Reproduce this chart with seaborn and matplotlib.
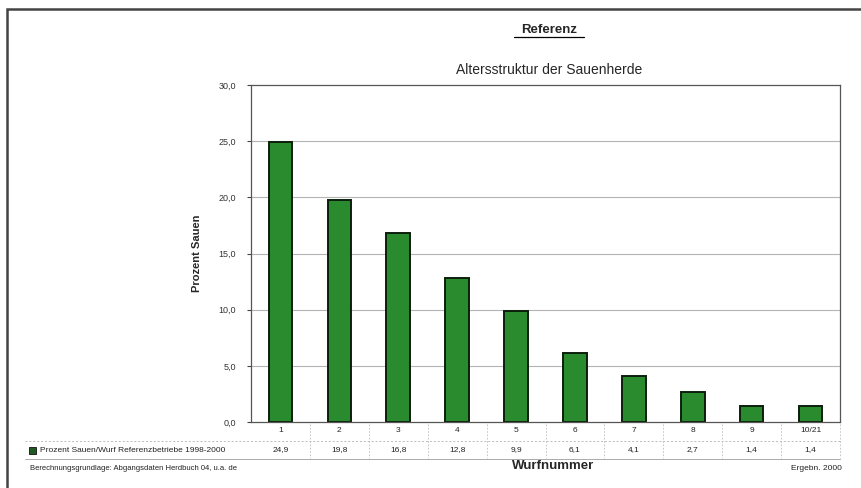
import matplotlib
matplotlib.use("Agg")
import matplotlib.pyplot as plt
import matplotlib.transforms as mtransforms
from matplotlib.patches import Rectangle
import seaborn as sns
import pandas as pd

# Wurfnummer categories and share of sows (%)
wurf = ["1", "2", "3", "4", "5", "6", "7", "8", "9", "10-21"]
prozent = [24.9, 19.8, 16.8, 12.8, 9.9, 6.1, 4.1, 2.7, 1.4, 1.4]
y_ticks = [0, 5, 10, 15, 20, 25, 30]

serie = "Prozent Sauen/Wurf Referenzbetriebe 1998-2000"
df = pd.DataFrame({"Wurfnummer": wurf, "Prozent": prozent})

sns.set_style("white")
plt.rcParams["font.family"] = ["Liberation Sans", "DejaVu Sans"]

fig = plt.figure(figsize=(8.62, 4.88), dpi=100)
W, H = 862, 488
ax = fig.add_axes([251 / W, 1 - 422 / H, (840 - 251) / W, (422 - 85) / H])

sns.barplot(data=df, x="Wurfnummer", y="Prozent", order=wurf, ax=ax,
            color="#2a8a2e", edgecolor="#0b1f0c", linewidth=1.4,
            width=0.4, saturation=1)

ax.set_xlim(-0.5, len(wurf) - 0.5)
ax.set_ylim(0, 30)
ax.set_yticks(y_ticks)
ax.set_yticklabels([f"{v:.1f}".replace(".", ",") for v in y_ticks],
                   fontsize=6.5, color="#333333")
ax.tick_params(axis="y", length=3, width=0.8, color="#444444", pad=8, left=True)
ax.set_xticks([])
ax.set_xlabel("")
ax.set_ylabel("Prozent Sauen", fontsize=8, fontweight="bold", labelpad=12)

for v in y_ticks[1:-1]:
    ax.axhline(v, color="#b4b4b4", lw=0.8, zorder=0)
for s in ax.spines.values():
    s.set_color("#555555")
    s.set_linewidth(0.9)

# Data table below the plot
trans = mtransforms.blended_transform_factory(ax.transData, fig.transFigure)
y_cat = 1 - 431 / H
y_val = 1 - 450 / H
for i, (w, p) in enumerate(zip(wurf, prozent)):
    ax.text(i, y_cat, w.replace("-", "/"), transform=trans, ha="center",
            va="center", fontsize=6, color="#222222")
    ax.text(i, y_val, f"{p:.1f}".replace(".", ","), transform=trans,
            ha="center", va="center", fontsize=6, color="#222222")
    ax.plot([i + 0.5, i + 0.5], [1 - 424 / H, 1 - 458 / H], transform=trans,
            color="#bbbbbb", lw=0.6, ls=(0, (2, 2)), clip_on=False)
fig.add_artist(plt.Line2D([25 / W, 840 / W], [1 - 441 / H, 1 - 441 / H],
                          color="#bbbbbb", lw=0.7, ls=(0, (2, 2))))
fig.add_artist(plt.Line2D([25 / W, 840 / W], [1 - 459 / H, 1 - 459 / H],
                          color="#aaaaaa", lw=0.7))
fig.add_artist(Rectangle((29 / W, 1 - 454 / H), 7 / W, 7 / H,
                         facecolor="#1f5a22", edgecolor="#111111", lw=0.6))
fig.text(40 / W, y_val, serie, ha="left", va="center", fontsize=6,
         color="#222222")

# Titles and annotations
fig.text(549 / W, 1 - 30 / H, "Referenz", ha="center", va="center",
         fontsize=9.5, fontweight="bold")
fig.add_artist(plt.Line2D([514 / W, 584 / W], [1 - 37 / H, 1 - 37 / H],
                          color="black", lw=0.9))
fig.text(549 / W, 1 - 70 / H, "Altersstruktur der Sauenherde", ha="center",
         va="center", fontsize=10)
fig.text(553 / W, 1 - 466 / H, "Wurfnummer", ha="center", va="center",
         fontsize=9.5, fontweight="bold")
fig.text(30 / W, 1 - 468 / H,
         "Berechnungsgrundlage: Abgangsdaten Herdbuch 04, u.a. de",
         ha="left", va="center", fontsize=5.5, color="#222222")
fig.text(842 / W, 1 - 469 / H, "Ergebn. 2000", ha="right", va="center",
         fontsize=6, color="#222222")

# Outer frame
fig.add_artist(Rectangle((7 / W, -0.05), 1.1, 1 - 9 / H + 0.05, fill=False,
                         edgecolor="#444444", lw=1.8))

fig.savefig("out.png", dpi=100)
